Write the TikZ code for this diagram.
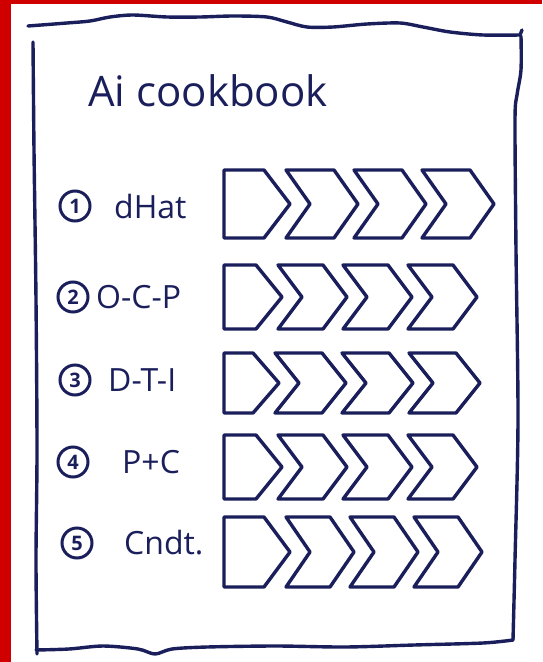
\documentclass[tikz,border=0pt]{standalone}
\usepackage{fontspec}
\setmainfont{Open Sans}
\usetikzlibrary{positioning}
\definecolor{ink}{HTML}{1A1F5C}
\definecolor{edge}{HTML}{D00000}

\begin{document}
\begin{tikzpicture}[
  x=1pt, y=-1pt,
  pen/.style={draw=ink,line width=3.4pt,line join=round,line cap=round},
  num/.style={circle,draw=ink,line width=3pt,text=ink,minimum size=30pt,inner sep=0pt,font=\fontsize{20}{20}\selectfont\bfseries},
  lbl/.style={text=ink,anchor=west,inner sep=0pt,font=\fontsize{32}{36}\selectfont},
]
\useasboundingbox (0,0) rectangle (542,662);
\fill[white] (0,0) rectangle (542,662);
% red edge of the page
\fill[edge] (0,0) rectangle (11,662);
\fill[edge] (0,0) rectangle (542,4);

% ---- hand-drawn sheet ----
\draw[pen] plot[smooth] coordinates {(28,26) (67,23) (90,21) (110,17) (133,15) (167,17) (200,17) (233,16) (267,17) (287,22) (307,27) (333,27) (367,24) (400,23) (423,27) (450,32) (483,35) (520,35)};
\draw[pen] (520,35) -- (522,30);
\draw[pen] plot[smooth] coordinates {(521,36) (521,70) (517,95) (515,120) (516,250) (518,420) (515,560) (513,640)};
\draw[pen] plot[smooth] coordinates {(513,640) (483,643) (414,645) (345,647) (276,646) (207,647) (172,649) (155,654) (138,649) (103,646) (69,649) (36,650)};
\draw[pen] plot[smooth] coordinates {(33,42) (34,150) (36,300) (37,450) (36,560) (37,654)};

% title
\node[lbl,font=\fontsize{42}{46}\selectfont] (title) at (88,91) {Ai cookbook};

% ---- steps: number and label ----
\foreach \i/\x/\y/\tx/\txt in {1/75/206/114/dHat, 2/73/297/96/O-C-P, 3/75/380/108/D-T-I, 4/73/462/122/P+C, 5/77/543/124/Cndt.}{
  \node[num] (c\i) at (\x,\y) {\i};
  \node[lbl] (l\i) at (\tx,\y) {\txt};
}

% ---- chevron rows ----
\foreach \y/\h/\t/\p in {204/34/66/68, 297/32/58/65, 383/30/55/67, 467/32/58/65, 552/35/66/64}{
  \draw[pen] (224,\y-\h) -- (224+\t-26,\y-\h) -- (224+\t,\y) -- (224+\t-26,\y+\h) -- (224,\y+\h) -- cycle;
  \foreach \k in {0,1,2}{
    \pgfmathsetmacro\a{224+\t-4+\k*\p}
    \draw[pen] (\a,\y-\h) -- (\a+\p-20,\y-\h) -- (\a+\p+4,\y) -- (\a+\p-20,\y+\h) -- (\a,\y+\h) -- (\a+24,\y) -- cycle;
  }
}
\end{tikzpicture}
\end{document}
